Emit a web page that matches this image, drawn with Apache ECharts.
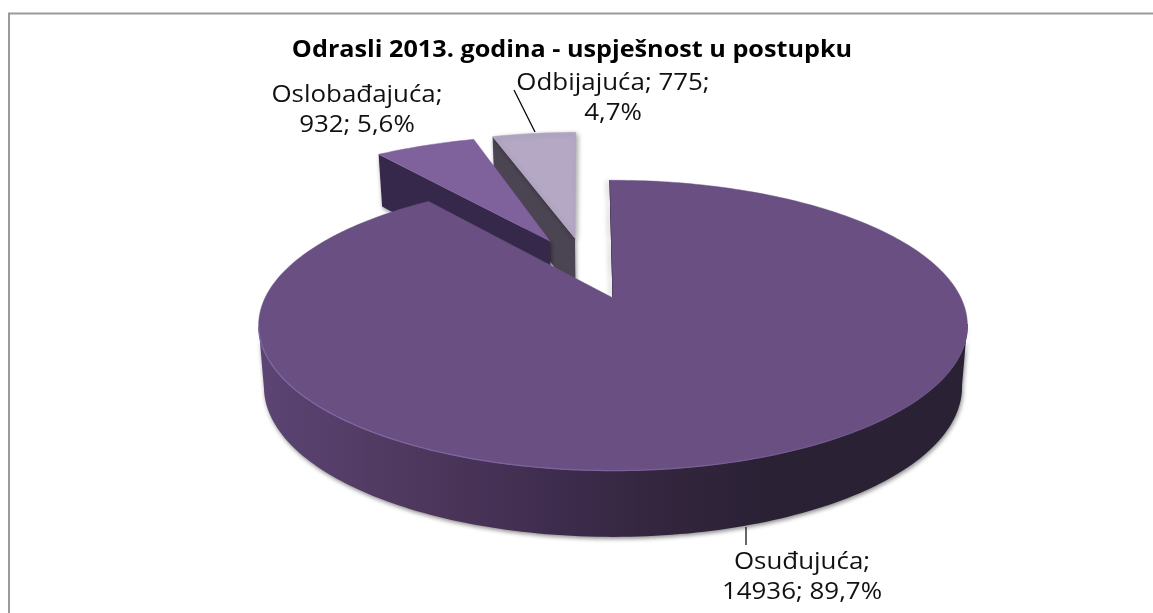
<!DOCTYPE html>
<html>
<head>
<meta charset="utf-8">
<style>html,body{margin:0;padding:0;background:#fff}#c{width:1153px;height:613px}</style>
<script src="https://cdn.jsdelivr.net/npm/echarts@6/dist/echarts.min.js"></script>
</head>
<body>
<div id="c"></div>
<script>
var categories = ['Osuđujuća', 'Oslobađajuća', 'Odbijajuća'];
var values = [14936, 932, 775];
var percentLabels = ['89,7%', '5,6%', '4,7%'];
var titleText = 'Odrasli 2013. godina - uspješnost u postupku';

// Perspective camera of the pie (plane units: radius = 1)
var apexX = 613, apexY = 298, scaleX = 348, scaleY = 140, persp = 0.189;
var wallBase = 60, wallSlope = 6.25, wallShrink = 0.985;
var explodeU = [0, -0.196, -0.119], explodeV = [0, 0.44, 0.465];
var sliceRadius = [1, 1.05, 1.06], sliceTurn = [-0.6, -0.6, -1];
var topColors = ['#6a5082', '#7f619c', '#b4a8c4'];
var wallColors = ['#3a2a4c', '#35284a', '#4b4553'];
var labelX = [802, 357, 613], labelY = [577, 110, 98];

var total = values.reduce(function (a, b) { return a + b; }, 0);

function project(u, v, h) {
  var d = 1 + persp * v;
  var k = h ? wallShrink : 1;
  return [apexX + k * scaleX * u / d, apexY - scaleY * v / d + (h ? wallBase - wallSlope * v : 0)];
}
function startFraction(i) {
  var s = 0;
  for (var k = 0; k < i; k++) s += values[k];
  return s / total;
}
function rimPoint(i, a, h) {
  var t = a + sliceTurn[i] * Math.PI / 180;
  return project(explodeU[i] + sliceRadius[i] * Math.sin(t), explodeV[i] + sliceRadius[i] * Math.cos(t), h);
}
function rim(i, a0, a1, h) {
  var pts = [], n = Math.max(4, Math.ceil(Math.abs(a1 - a0) / 0.02));
  for (var k = 0; k <= n; k++) pts.push(rimPoint(i, a0 + (a1 - a0) * k / n, h));
  return pts;
}
function renderSlice(params, api) {
  var i = api.value(0);
  var a0 = startFraction(i) * 2 * Math.PI;
  var a1 = a0 + api.value(1) / total * 2 * Math.PI;
  var apex = project(explodeU[i], explodeV[i], false);
  var apexB = project(explodeU[i], explodeV[i], true);
  var children = [];
  var shadowStyle = {shadowBlur: 4, shadowColor: 'rgba(0,0,0,0.45)', shadowOffsetX: 1, shadowOffsetY: 2};

  if (i === 0) {
    var wa0 = Math.PI / 2 + Math.asin(persp), wa1 = 3 * Math.PI / 2 - Math.asin(persp);
    children.push({
      type: 'polygon', shape: {points: rim(i, wa0, wa1, false).concat(rim(i, wa1, wa0, true))},
      style: Object.assign({
        fill: new echarts.graphic.LinearGradient(0, 0, 1, 0, [
          {offset: 0, color: '#5c4474'},
          {offset: 0.2, color: '#50395f'},
          {offset: 0.42, color: '#3e2c4e'},
          {offset: 0.58, color: '#32253c'},
          {offset: 0.72, color: '#2a2135'},
          {offset: 1, color: '#2a2135'}
        ])
      }, shadowStyle)
    });
    children.push({
      type: 'polygon',
      shape: {points: [apex, rimPoint(i, a0, false), rimPoint(i, a0, false)]},
      style: {fill: '#2c2237', stroke: '#2c2237', lineWidth: 1,
              shadowBlur: 5, shadowColor: 'rgba(0,0,0,0.4)', shadowOffsetX: -2}
    });
  } else {
    // the wall along the slice's left radial edge
    children.push({
      type: 'polygon',
      shape: {points: [apex, apexB, rimPoint(i, a0, true), rimPoint(i, a0, false)]},
      style: Object.assign({fill: wallColors[i]}, shadowStyle)
    });
  }
  children.push({
    type: 'polygon', shape: {points: [apex].concat(rim(i, a0, a1, false))},
    style: i === 2
      ? {fill: topColors[i], stroke: topColors[i], lineWidth: 0.5,
         shadowBlur: 5, shadowColor: 'rgba(0,0,0,0.35)', shadowOffsetX: 2, shadowOffsetY: 2}
      : {fill: topColors[i], stroke: topColors[i], lineWidth: 0.5}
  });
  if (i === 0) {
    children.push({
      type: 'polyline',
      shape: {points: rim(i, Math.PI / 2 + Math.asin(persp), 3 * Math.PI / 2 - Math.asin(persp), false)},
      style: {fill: 'none', lineWidth: 1.2,
        stroke: new echarts.graphic.LinearGradient(0, 0, 1, 0, [
          {offset: 0, color: '#8068a8'}, {offset: 0.5, color: '#7a629a'}, {offset: 1, color: '#6a5082'}
        ])}
    });
  }
  return {type: 'group', children: children};
}

var chart = echarts.init(document.getElementById('c'), null, {renderer: 'canvas'});
var order = [2, 1, 0];
var fontStack = '"Open Sans","Noto Sans",sans-serif';
chart.setOption({
  animation: false,
  backgroundColor: '#fff',
  graphic: [
    {type: 'polyline', shape: {points: [[9, 613], [9, 13.5], [1153, 13.5]]},
     style: {fill: 'none', stroke: '#9a9a9a', lineWidth: 2}},
    {type: 'line', shape: {x1: 746, y1: 527, x2: 746, y2: 545}, style: {stroke: '#000', lineWidth: 1.2}},
    {type: 'line', shape: {x1: 514, y1: 90, x2: 535, y2: 132}, style: {stroke: '#000', lineWidth: 1.2}},
    {type: 'text', x: 572, y: 50, scaleX: 1.096,
     style: {text: titleText, fontFamily: fontStack, fontWeight: 'bold', fontSize: 23, fill: '#000',
             align: 'center', verticalAlign: 'middle'}}
  ],
  series: [{
    type: 'custom',
    coordinateSystem: 'none',
    renderItem: renderSlice,
    data: order.map(function (i) { return [i, values[i]]; }),
    silent: true
  }, {
    type: 'custom',
    coordinateSystem: 'none',
    silent: true,
    renderItem: function (params, api) {
      var i = api.value(0);
      var text = i === 2
        ? categories[i] + '; ' + values[i] + ';\n' + percentLabels[i]
        : categories[i] + ';\n' + values[i] + '; ' + percentLabels[i];
      return {type: 'text', x: labelX[i], y: labelY[i], scaleX: 1.126,
        style: {text: text, fontFamily: fontStack, fontSize: 23, lineHeight: 30, fill: '#111',
                align: 'center', verticalAlign: 'middle'}};
    },
    data: [[0], [1], [2]]
  }]
});
</script>
</body>
</html>
